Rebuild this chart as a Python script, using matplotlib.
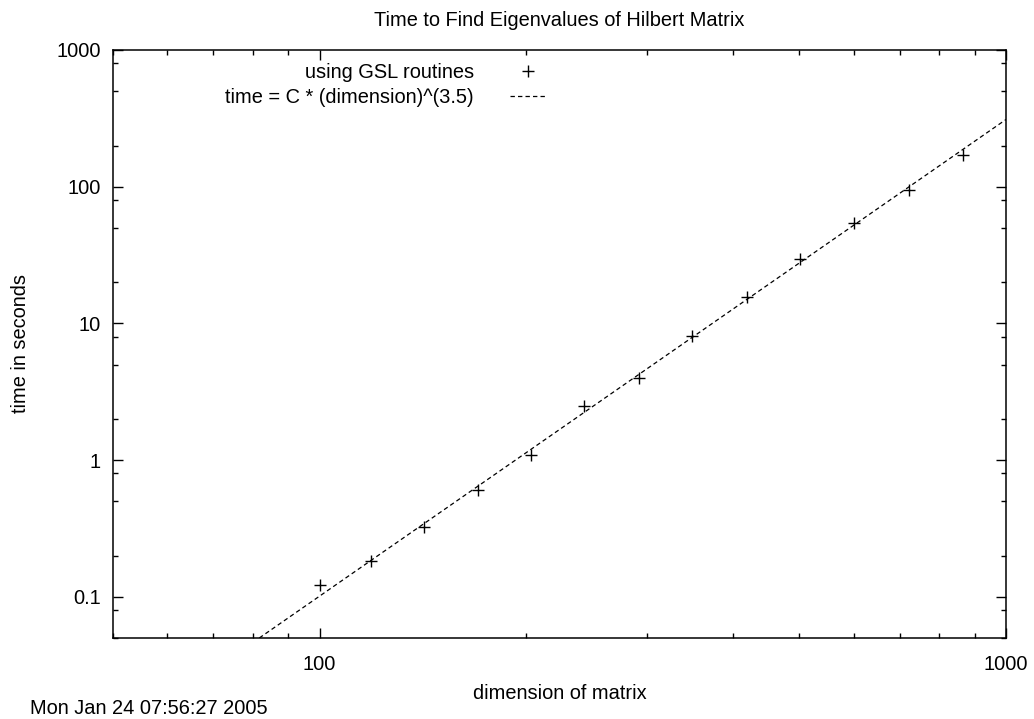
import matplotlib
matplotlib.use('Agg')
import matplotlib.pyplot as plt
from matplotlib.ticker import LogLocator, NullFormatter

plt.rcParams['font.family'] = ['Liberation Sans', 'DejaVu Sans']

# measured points
dim = [100, 119, 142, 170, 203, 243, 292, 349, 420, 501, 601, 723, 866]
secs = [0.122, 0.183, 0.324, 0.604, 1.09, 2.48, 3.97, 8.04, 15.7, 29.8, 54.6, 95, 171]

# fitted curve C * dim^3.5, ends
fit_dim = [80, 1000]
fit_secs = [0.0465, 310]

yticks = [0.1, 1, 10, 100, 1000]
ylabels = ['0.1', '1', '10', '100', '1000']
xticks = [100, 1000]
xlabels = ['100', '1000']

fs = 14.4

fig = plt.figure(figsize=(10.34, 7.19), dpi=100)
ax = fig.add_axes([0.1093, 0.1127, 0.8636, 0.8178])

ax.plot(dim, secs, linestyle='none', marker='+', color='black',
        markersize=8, markeredgewidth=1, label='using GSL routines')
ax.plot(fit_dim, fit_secs, color='black', linewidth=0.9, dashes=(3.5, 2.5),
        label='time = C * (dimension)^(3.5)')

ax.set_xscale('log')
ax.set_yscale('log')
ax.set_xlim(50, 1000)
ax.set_ylim(0.05, 1000)

ax.xaxis.set_minor_locator(LogLocator(base=10, subs=[2, 3, 4, 5, 6, 7, 8, 9]))
ax.yaxis.set_minor_locator(LogLocator(base=10, subs=[2, 5, 8]))
ax.set_xticks(xticks)
ax.set_xticklabels(xlabels)
ax.set_yticks(yticks)
ax.set_yticklabels(ylabels)
ax.xaxis.set_minor_formatter(NullFormatter())
ax.yaxis.set_minor_formatter(NullFormatter())

ax.tick_params(which='both', direction='in', top=True, right=True,
               labelsize=fs, width=1)
ax.tick_params(which='major', length=7.2)
ax.tick_params(axis='x', which='major', pad=12)
ax.tick_params(axis='y', which='major', pad=9)
ax.tick_params(which='minor', length=3.6)
for s in ax.spines.values():
    s.set_linewidth(1.1)

ax.set_title('Time to Find Eigenvalues of Hilbert Matrix', fontsize=fs, pad=17)
ax.set_xlabel('dimension of matrix', fontsize=fs, labelpad=7.5)
ax.set_ylabel('time in seconds', fontsize=fs, labelpad=19)

ax.legend(loc='upper right', bbox_to_anchor=(0.486, 0.978), frameon=False,
          markerfirst=False, fontsize=fs, handlelength=1.85,
          handletextpad=1.8, labelspacing=0.3, borderaxespad=0, borderpad=0)

fig.text(30 / 1034, 1 - 708 / 719, 'Mon Jan 24 07:56:27 2005', fontsize=fs,
         ha='left', va='center')

fig.savefig('out.png', dpi=100)
